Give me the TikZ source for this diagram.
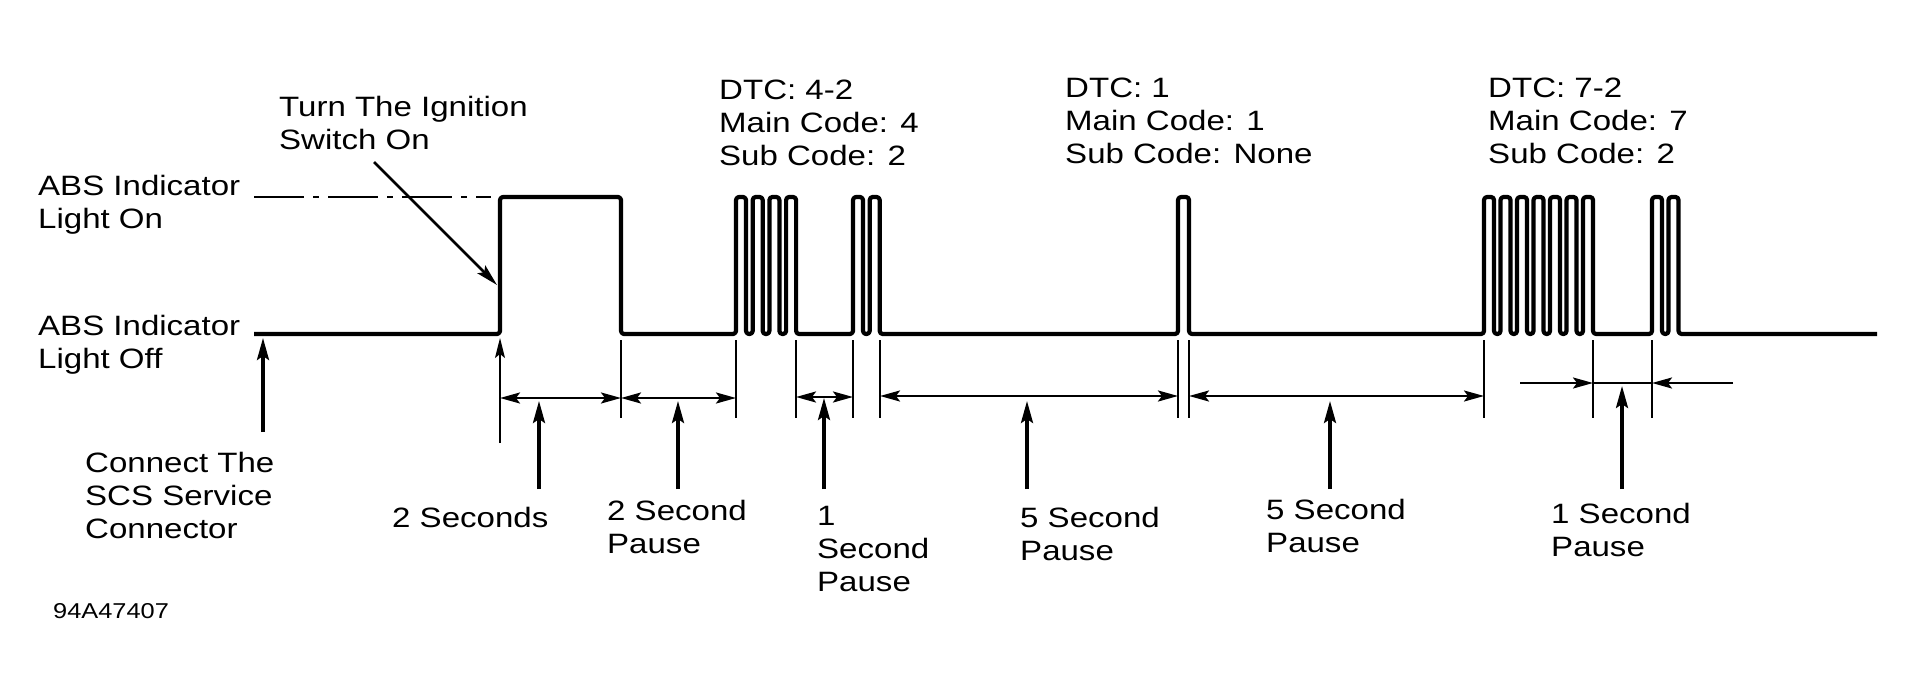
\documentclass[tikz,border=0pt]{standalone}
\usepackage{fontspec}
\setmainfont{Liberation Sans}[FakeStretch=1.18]
\usetikzlibrary{arrows.meta}

\tikzset{
  lbl/.style={inner sep=0pt, anchor=base west, align=left,
    font=\fontsize{28}{33}\selectfont},
  signal/.style={line width=4.2pt, rounded corners=3pt, line join=round},
  onlevel/.style={line width=2.6pt, dash pattern=on 50pt off 9pt on 6pt off 9pt},
  tick/.style={line width=1.8pt},
  dimline/.style={line width=2.4pt},
  dim/.style={dimline, {Stealth[length=20pt,width=11pt,inset=4pt]}-{Stealth[length=20pt,width=11pt,inset=4pt]}},
  dimin/.style={dimline, -{Stealth[length=20pt,width=11pt,inset=4pt]}},
  pointer/.style={line width=3.3pt, -{Stealth[length=22pt,width=12pt,inset=4pt]}},
  leader/.style={line width=2.5pt, -{Stealth[length=22pt,width=11pt,inset=4pt]}}
}

\begin{document}
\begin{tikzpicture}[x=1pt, y=-1pt]
\useasboundingbox (0,0) rectangle (1914,695);

% labels (placed on the baseline of their last line)
\node[lbl] (on)   at (38,229)  {ABS Indicator\\Light On};
\node[lbl] (off)  at (38,368)  {ABS Indicator\\Light Off};
\node[lbl] (turn) at (279,150) {Turn The Ignition\\Switch On};
\node[lbl] (scs)  at (85,538)  {Connect The\\SCS Service\\Connector};
\node[lbl] (dtcA) at (719,166) {DTC: 4-2\\Main Code: 4\\Sub Code: 2};
\node[lbl] (dtcB) at (1065,164) {DTC: 1\\Main Code: 1\\Sub Code: None};
\node[lbl] (dtcC) at (1488,164) {DTC: 7-2\\Main Code: 7\\Sub Code: 2};
\node[lbl] (twoS) at (392,527) {2 Seconds};
\node[lbl] (twoP) at (607,553) {2 Second\\Pause};
\node[lbl] (oneA) at (817,591) {1\\Second\\Pause};
\node[lbl] (fiveA) at (1020,560) {5 Second\\Pause};
\node[lbl] (fiveB) at (1266,552) {5 Second\\Pause};
\node[lbl] (oneB) at (1551,556) {1 Second\\Pause};
\node[lbl, font=\fontsize{21.5}{26}\selectfont] (fig) at (53,618) {94A47407};

% light levels
\draw[onlevel] (254,197) -- (491,197);
\draw[signal] (254,334) -- (500,334) -- (500,197) -- (621,197) -- (621,334)
  foreach \k in {0,...,3} { -- ({736+16.7*\k},334) -- ++(0,-137) -- ++(10,0) -- ++(0,137) }
  foreach \k in {0,1} { -- ({853+16.7*\k},334) -- ++(0,-137) -- ++(10,0) -- ++(0,137) }
  -- (1178,334) -- ++(0,-137) -- ++(11,0) -- ++(0,137)
  foreach \k in {0,...,6} { -- ({1484+16.5*\k},334) -- ++(0,-137) -- ++(10,0) -- ++(0,137) }
  foreach \k in {0,1} { -- ({1652+16.5*\k},334) -- ++(0,-137) -- ++(10,0) -- ++(0,137) }
  -- (1877,334);

% time marks
\foreach \t in {621,736,796,853,880,1178,1189,1484,1593,1652}
  \draw[tick] (\t,340) -- (\t,418);
\draw[tick, -{Stealth[length=20pt,width=10pt,inset=4pt]}] (500,443) -- (500,338);

% intervals
\draw[dim] (500,398) -- (621,398);
\draw[dim] (621,398) -- (736,398);
\draw[dim] (796,397) -- (853,397);
\draw[dim] (880,396) -- (1178,396);
\draw[dim] (1189,396) -- (1484,396);
\draw[dimin] (1520,383) -- (1593,383);
\draw[dimin] (1733,383) -- (1652,383);
\draw[dimline] (1593,383) -- (1652,383);

% pointers
\draw[leader] (374,162) -- (497,285);
\draw[pointer] (263,432) -- (263,338);
\draw[pointer] (539,489) -- (539,401);
\draw[pointer] (678,489) -- (678,401);
\draw[pointer] (824,489) -- (824,398);
\draw[pointer] (1027,489) -- (1027,401);
\draw[pointer] (1330,489) -- (1330,401);
\draw[pointer] (1622,489) -- (1622,386);
\end{tikzpicture}
\end{document}
